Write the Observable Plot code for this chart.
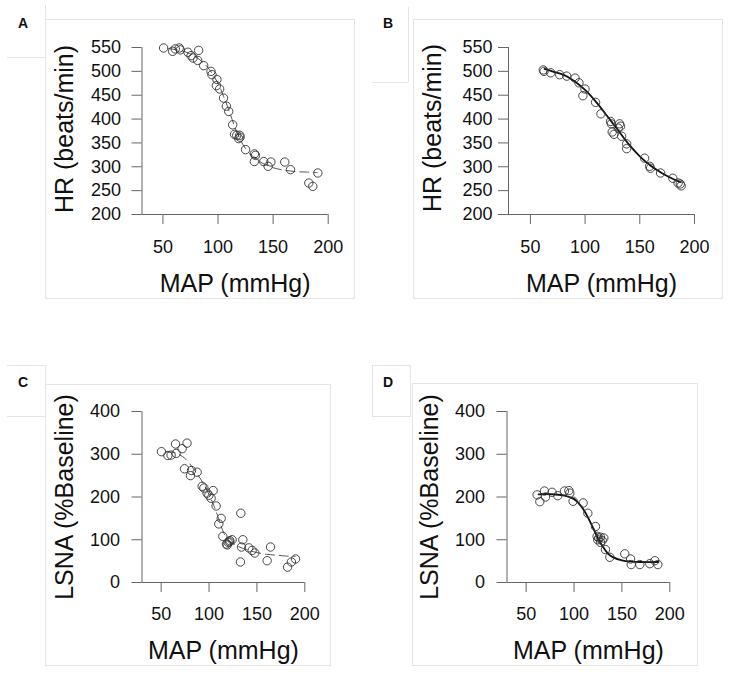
<!DOCTYPE html>
<html>
<head>
<meta charset="utf-8">
<script src="https://cdn.jsdelivr.net/npm/d3@7"></script>
<script src="https://cdn.jsdelivr.net/npm/@observablehq/plot@0.6"></script>
<style>
  html, body { margin: 0; padding: 0; background: #fff; }
  #root { position: relative; width: 730px; height: 674px; background: #fff; overflow: hidden;
          font-family: "Liberation Sans", Arial, sans-serif; }
  .ln { position: absolute; background: #e4e4e4; }
  .lab { position: absolute; font-weight: bold; font-size: 14px; color: #111; transform: translate(-50%, -50%); }
  .pl { position: absolute; }
</style>
</head>
<body>
<div id="root"></div>
<script>
// ---- tick labels ----
const xTicks = [50, 100, 150, 200];
const hrTicks = [200, 250, 300, 350, 400, 450, 500, 550];
const lsnaTicks = [0, 100, 200, 300, 400];

// ---- Panel A: HR vs MAP (dashed fit) ----
const mapA = [50.6,58.8,61.2,64.8,65.8,72.7,75.5,77.3,82.4,81.5,87,93.6,94.5,99,98.5,101.5,105,107.6,109.7,113.3,115,117,119.7,120,118.8,125,133,134,133,141.5,145.5,148,160.6,165.8,190.6,182.4,186];
const hrA  = [549,542,547,549,545,540,533,528,544,523,512,500,493,483,470,463,444,427,416,388,368,366,366,362,359,336,327,324,311,311,301,310,310,294,287,266,259];
const fitMapA = [55,60,70,80,90,100,105,110,115,120,125,130,140,150,160,170,180,190];
const fitHrA  = [548,546,541,530,510,475,448,418,385,358,338,325,308,298,293,290,289,288];

// ---- Panel B: HR vs MAP (solid fit) ----
const mapB = [61.8,62.5,68.6,76.8,83.2,90.8,94.4,99.9,98,109.6,114.5,123.3,124,124.8,126.4,131.5,132.4,130.3,133.4,138,138,154.4,159,159.8,169,180.2,185,187.8,187];
const hrB  = [503,500,497,493,490,486,476,463,449,435,411,395,390,373,368,390,385,381,364,348,338,318,301,297,287,276,266,260,264];
const fitMapB = [63,70,80,90,100,110,120,125,130,140,150,160,170,180,187];
const fitHrB  = [505,500,493,480,461,436,407,392,377,347,322,302,287,275,268];

// ---- Panel C: LSNA vs MAP (dashed fit) ----
const mapC  = [50.3,57,60.4,65,65.7,71.9,77,74.4,81.7,80.6,87.6,92.8,94.6,98,99.8,102.2,104.3,107.4,112.7,110.2,114.4,118.2,120,121.7,124.1,133.2,135.3,133.9,141.5,145,147.8,132.8,160.7,164.2,182,186,190.3,119,121.5];
const lsnaC = [306,297,298,324,302,313,326,266,262,250,258,225,221,209,204,197,215,179,150,137,108,90,94,98,100,162,100,83,81,75,69,48,51,83,36,48,55,88,95];
const fitMapC  = [55,65,75,85,95,105,110,115,120,130,140,150,160,170,180,190];
const fitLsnaC = [305,303,290,262,228,180,150,118,100,85,76,70,66,64,62,61];

// ---- Panel D: LSNA vs MAP (solid fit) ----
const mapD  = [61.5,64.3,69.1,70.2,77.1,83,90,94.6,95.6,99,109.5,114.4,122.4,124.1,125.9,127.6,131.1,124.8,129.4,127.6,132.8,137.4,153,159,159.7,168.7,179.1,184.4,187.5];
const lsnaD = [205,189,214,200,211,203,214,215,209,190,186,162,131,108,104,106,104,100,98,94,77,59,67,55,42,42,44,51,42];
const fitMapD  = [63,70,80,90,100,105,110,115,120,125,130,135,140,150,160,170,188];
const fitLsnaD = [206,207,206,203,195,185,170,150,127,104,84,69,60,52,49,48,48];

const xLabel = "MAP (mmHg)";
const hrLabel = "HR (beats/min)";
const lsnaLabel = "LSNA (%Baseline)";

const zip = (xs, ys) => xs.map((x, i) => ({x, y: ys[i]}));

function panel(o) {
  const pts = zip(o.px, o.py);
  const fit = zip(o.fx, o.fy);
  return Plot.plot({
    width: o.w, height: o.h,
    marginLeft: o.ml, marginRight: o.mr, marginTop: o.mt, marginBottom: o.mb,
    style: {fontFamily: "'Liberation Sans', Arial, sans-serif", fontSize: "18px", color: "#111", background: "transparent", overflow: "visible"},
    x: {domain: o.xdom},
    y: {domain: o.ydom},
    marks: [
      Plot.axisX(xTicks, {tickSize: 10, tickPadding: o.xpad, label: null, stroke: "#666", fill: "#111"}),
      Plot.axisY(o.yticks, {tickSize: 10, tickPadding: o.ypad, label: null, stroke: "#666", fill: "#111"}),
      Plot.ruleX([o.xdom[0]], {y1: o.ydom[0], y2: o.ydom[1], stroke: "#666"}),
      Plot.ruleY([o.ydom[0]], {x1: o.xdom[0], x2: o.xdom[1], stroke: "#666"}),
      Plot.line(fit, {x: "x", y: "y", curve: "catmull-rom",
        stroke: o.dashed ? "#555" : "#111",
        strokeWidth: o.dashed ? 1 : 1.8,
        strokeDasharray: o.dashed ? "9,5" : null}),
      Plot.dot(pts, {x: "x", y: "y", r: 4.2, stroke: "#333", strokeWidth: 0.9, fill: "none"}),
      Plot.text([o.ylabel], {frameAnchor: "left", textAnchor: "middle", rotate: -90, dx: o.ydx, dy: o.ydy, fontSize: 25, fill: "#111"}),
      Plot.text([xLabel], {frameAnchor: "bottom", lineAnchor: "bottom", dy: o.xdy, fontSize: 25, fill: "#111"})
    ]
  });
}

const root = document.getElementById("root");

function addLine(x, y, w, h) {
  const d = document.createElement("div");
  d.className = "ln";
  d.style.left = x + "px"; d.style.top = y + "px";
  d.style.width = w + "px"; d.style.height = h + "px";
  root.appendChild(d);
}
function addRect(x0, y0, x1, y1) {
  addLine(x0, y0, x1 - x0, 1);
  addLine(x0, y1, x1 - x0 + 1, 1);
  addLine(x0, y0, 1, y1 - y0);
  addLine(x1, y0, 1, y1 - y0);
}
function addLabel(t, x, y) {
  const d = document.createElement("div");
  d.className = "lab";
  d.textContent = t;
  d.style.left = x + "px"; d.style.top = y + "px";
  root.appendChild(d);
}
function place(svg, x, y) {
  const wrap = document.createElement("div");
  wrap.className = "pl";
  wrap.style.left = x + "px"; wrap.style.top = y + "px";
  wrap.appendChild(svg);
  root.appendChild(wrap);
}

// decorative panel frames
addRect(45, 19, 354, 298); addLine(45, 5, 1, 14); addLine(7, 57, 38, 1);
addRect(413, 19, 722, 298); addLine(408, 7, 1, 75); addLine(372, 82, 36, 1);
addRect(45, 384, 330, 665); addLine(7, 365, 38, 1); addLine(7, 416, 38, 1); addLine(45, 365, 1, 19);
addRect(412, 383, 697, 665); addRect(372, 365, 410, 416);

addLabel("A", 23, 23);
addLabel("B", 388, 23);
addLabel("C", 23, 382);
addLabel("D", 388, 382);

place(panel({w: 309, h: 279, ml: 96.5, mr: 26.3, mt: 28, mb: 84,
  xdom: [31, 200], ydom: [200, 550], yticks: hrTicks, xpad: 16, ypad: 11,
  px: mapA, py: hrA, fx: fitMapA, fy: fitHrA, dashed: true,
  ylabel: hrLabel, ydx: -77, ydy: -2, xdy: 77}), 45, 19);

place(panel({w: 309, h: 279, ml: 95, mr: 28, mt: 28, mb: 84,
  xdom: [30, 200], ydom: [200, 550], yticks: hrTicks, xpad: 16, ypad: 6,
  px: mapB, py: hrB, fx: fitMapB, fy: fitHrB, dashed: false,
  ylabel: hrLabel, ydx: -76, ydy: -3, xdy: 77}), 413, 19);

place(panel({w: 285, h: 281, ml: 96.5, mr: 25.7, mt: 27, mb: 83,
  xdom: [30, 200], ydom: [0, 400], yticks: lsnaTicks, xpad: 15, ypad: 12,
  px: mapC, py: lsnaC, fx: fitMapC, fy: fitLsnaC, dashed: true,
  ylabel: lsnaLabel, ydx: -77, ydy: 0, xdy: 76}), 45, 384);

place(panel({w: 285, h: 282, ml: 94.5, mr: 27.7, mt: 28, mb: 83,
  xdom: [30, 200], ydom: [0, 400], yticks: lsnaTicks, xpad: 15, ypad: 12,
  px: mapD, py: lsnaD, fx: fitMapD, fy: fitLsnaD, dashed: false,
  ylabel: lsnaLabel, ydx: -77, ydy: 0, xdy: 76}), 412, 383);
</script>
</body>
</html>
